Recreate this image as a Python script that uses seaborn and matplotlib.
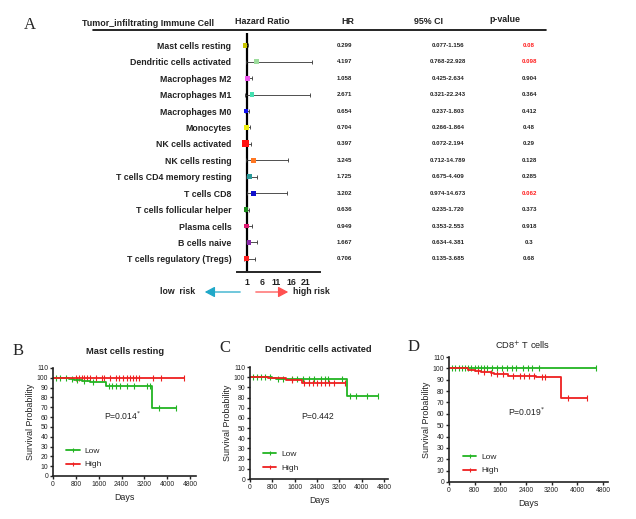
import numpy as np
import pandas as pd
import seaborn as sns
import matplotlib.pyplot as plt
from matplotlib.lines import Line2D
from matplotlib.patches import FancyArrowPatch
from matplotlib.transforms import blended_transform_factory

# ---- forest plot data (panel A)
cells = [
    "Mast cells resting", "Dendritic cells activated", "Macrophages M2",
    "Macrophages M1", "Macrophages M0", "Monocytes", "NK cells activated",
    "NK cells resting", "T cells CD4 memory resting", "T cells CD8",
    "T cells follicular helper", "Plasma cells", "B cells naive",
    "T cells regulatory (Tregs)",
]
hr = [0.299, 4.197, 1.058, 2.671, 0.654, 0.704, 0.397, 3.245, 1.725, 3.202,
      0.636, 0.949, 1.667, 0.706]
ci_low = [0.077, 0.768, 0.425, 0.321, 0.237, 0.266, 0.072, 0.712, 0.675,
          0.974, 0.235, 0.353, 0.634, 0.135]
ci_high = [1.156, 22.928, 2.634, 22.243, 1.803, 1.864, 2.194, 14.789, 4.409,
           14.673, 1.720, 2.553, 4.381, 3.685]
ci_text = ["0.077-1.156", "0.768-22.928", "0.425-2.634", "0.321-22.243",
           "0.237-1.803", "0.266-1.864", "0.072-2.194", "0.712-14.789",
           "0.675-4.409", "0.974-14.673", "0.235-1.720", "0.353-2.553",
           "0.634-4.381", "0.135-3.685"]
hr_text = ["0.299", "4.197", "1.058", "2.671", "0.654", "0.704", "0.397",
           "3.245", "1.725", "3.202", "0.636", "0.949", "1.667", "0.706"]
p_text = ["0.08", "0.098", "0.904", "0.364", "0.412", "0.48", "0.29", "0.128",
          "0.285", "0.062", "0.373", "0.918", "0.3", "0.68"]
point_colors = ["#c8c400", "#9cdc9c", "#ee55ee", "#44e0b0", "#1010ee",
                "#eeee10", "#ff1010", "#ff7722", "#2a9a9a", "#1010cc",
                "#1a8a1a", "#dd1870", "#8a2aaa", "#ff2020"]
forest_ticks = [1, 6, 11, 16, 21]

# ---- Kaplan-Meier data (panels B, C, D)
b_low_t = [0, 300, 550, 750, 1000, 1300, 1850, 3480, 4300]
b_low_s = [100, 99.5, 99, 98, 97, 96, 92, 69, 69]
b_high_t = [0, 4600]
b_high_s = [100, 100]
b_low_cens = [100, 250, 450, 650, 850, 1100, 1400, 1950, 2050, 2200, 2350,
              2600, 2850, 3300, 3400, 3700, 4300]
b_high_cens = [800, 900, 1000, 1100, 1200, 1300, 1500, 1700, 1800, 2000,
               2200, 2300, 2450, 2600, 2700, 2800, 2900, 3000, 3500, 3800,
               4600]

c_low_t = [0, 800, 950, 3480, 4600]
c_low_s = [100, 99.5, 98, 82, 82]
c_high_t = [0, 650, 1300, 1850, 3400]
c_high_s = [100, 99, 97, 94, 94]
c_low_cens = [100, 250, 400, 550, 700, 1000, 1200, 1500, 1700, 1900, 2100,
              2300, 2550, 2700, 2800, 3300, 3600, 3800, 4200, 4600]
c_high_cens = [1500, 1950, 2100, 2250, 2400, 2550, 2700, 2850, 3000, 3400]

d_low_t = [0, 4600]
d_low_s = [100, 100]
d_high_t = [0, 600, 800, 1000, 1300, 1400, 1850, 2700, 3480, 4300]
d_high_s = [100, 99, 98, 97, 96, 95, 93, 92.5, 74, 74]
d_low_cens = [100, 200, 300, 400, 500, 600, 700, 800, 900, 1000, 1100, 1200,
              1350, 1500, 1650, 1800, 1950, 2100, 2300, 2450, 2600, 2800,
              4600]
d_high_cens = [900, 1100, 1300, 1500, 1700, 2000, 2200, 2350, 2500, 2650,
               2900, 3000, 3700, 4300]

km_titles = ["Mast cells resting", "Dendritic cells activated",
             "CD8$^{+}$ T cells"]
km_pvals = ["P=0.014$^{*}$", "P=0.442", "P=0.019$^{*}$"]

GREEN = "#22b422"
RED = "#ee2020"

sns.set_theme(style="white")
plt.rcParams["font.family"] = ["Liberation Sans", "DejaVu Sans"]
plt.rcParams["axes.linewidth"] = 1.2

W, H = 636, 519
fig = plt.figure(figsize=(W / 100, H / 100), dpi=100)


def px_axes(left, top, right, bottom):
    return fig.add_axes([left / W, 1 - bottom / H, (right - left) / W,
                         (bottom - top) / H])


def fx(x):
    return x / W


def fy(y):
    return 1 - y / H


# ================= panel A
ax = px_axes(237, 33, 320, 272)
rows = np.arange(len(cells))
df = pd.DataFrame({"cell": cells, "hr": hr, "row": rows})
ax.errorbar(hr, rows, xerr=[np.array(hr) - np.array(ci_low),
                            np.array(ci_high) - np.array(hr)],
            fmt="none", ecolor="#333333", elinewidth=0.6, capsize=1.5,
            capthick=0.6, zorder=2)
sizes = {c: (24 if c == "NK cells activated" else 12) for c in cells}
sns.scatterplot(data=df, x="hr", y="row", hue="cell", size="cell",
                sizes=sizes, palette=dict(zip(cells, point_colors)),
                marker="s", linewidth=0, legend=False, ax=ax, zorder=3)
ax.axvline(1, color="black", lw=1.6, zorder=1)
ax.set_xlim(-2.4, 25.7)
ax.set_ylim(13.8, -0.75)
ax.set_yticks(rows)
ax.set_yticklabels(cells, fontsize=6.3, fontweight="bold", color="#222222")
ax.tick_params(axis="y", length=0, pad=4)
ax.set_xticks(forest_ticks)
ax.set_xticklabels([str(t) for t in forest_ticks], fontsize=6.3,
                   fontweight="bold", color="#222222")
ax.tick_params(axis="x", length=3, width=1, pad=1.5, direction="out")
ax.set_xlabel("")
ax.set_ylabel("")
for s in ["left", "right", "top"]:
    ax.spines[s].set_visible(False)
ax.spines["bottom"].set_linewidth(1.4)

tr = blended_transform_factory(fig.transFigure, ax.transData)
for i in rows:
    ax.text(fx(337), i, hr_text[i], transform=tr, fontsize=4.4,
            fontweight="bold", ha="left", va="center", color="#222222")
    ax.text(fx(448), i, ci_text[i], transform=tr, fontsize=4.4,
            fontweight="bold", ha="center", va="center", color="#222222")
    pc = "#ff1a1a" if float(p_text[i]) < 0.1 else "#222222"
    ax.text(fx(529), i, p_text[i], transform=tr, fontsize=4.4,
            fontweight="bold", ha="center", va="center", color=pc)

fig.text(fx(30), fy(25), "A", family="Liberation Serif", fontsize=12,
         ha="center", va="center")
fig.text(fx(148), fy(23), "Tumor_infiltrating Immune Cell", fontsize=6.4,
         fontweight="bold", ha="center", va="center", color="#222222")
fig.text(fx(262), fy(22), "Hazard Ratio", fontsize=6.4, fontweight="bold",
         ha="center", va="center", color="#222222")
fig.text(fx(348), fy(21), "HR", fontsize=6.4, fontweight="bold",
         ha="center", va="center", color="#222222")
fig.text(fx(428), fy(22), "95% CI", fontsize=6.4, fontweight="bold",
         ha="center", va="center", color="#222222")
fig.text(fx(505), fy(19), "p-value", fontsize=6.4, fontweight="bold",
         ha="center", va="center", color="#222222")
fig.add_artist(Line2D([fx(93), fx(546)], [fy(30), fy(30)], color="black",
                      lw=1.2))

fig.text(fx(178), fy(292), "low  risk", fontsize=6.3, fontweight="bold",
         ha="center", va="center", color="#222222")
fig.text(fx(293), fy(292), "high risk", fontsize=6.3, fontweight="bold",
         ha="left", va="center", color="#222222")
fig.add_artist(FancyArrowPatch(
    (fx(243), fy(292)), (fx(202), fy(292)), transform=fig.transFigure,
    arrowstyle="-|>,head_length=6,head_width=3.2", color="#20a8c8", lw=0.9))
fig.add_artist(FancyArrowPatch(
    (fx(253), fy(292)), (fx(291), fy(292)), transform=fig.transFigure,
    arrowstyle="-|>,head_length=6,head_width=3.2", color="#ff5050", lw=0.9))


# ================= panels B, C, D
def step_value(t, times, surv):
    idx = np.searchsorted(times, t, side="right") - 1
    return np.array(surv)[idx]


panels = [
    dict(box=(53, 368, 196, 476), xmax=5010, letter="B", lx=18, ly=351,
         tx=125, ty=351, low=(b_low_t, b_low_s, b_low_cens),
         high=(b_high_t, b_high_s, b_high_cens), bold=True),
    dict(box=(250, 367, 388, 479), xmax=4950, letter="C", lx=225, ly=348,
         tx=318, ty=349, low=(c_low_t, c_low_s, c_low_cens),
         high=(c_high_t, c_high_s, c_high_cens), bold=True),
    dict(box=(449, 357, 608, 482), xmax=4960, letter="D", lx=414, ly=347,
         tx=523, ty=346, low=(d_low_t, d_low_s, d_low_cens),
         high=(d_high_t, d_high_s, d_high_cens), bold=False),
]

for k, p in enumerate(panels):
    kax = px_axes(*p["box"])
    for (t, s, cens), col in [(p["low"], GREEN), (p["high"], RED)]:
        sns.lineplot(x=t, y=s, drawstyle="steps-post", color=col, lw=1.3,
                     sort=False, estimator=None, ax=kax)
        cy = step_value(cens, t, s)
        sns.scatterplot(x=cens, y=cy, marker="|", s=16, color=col,
                        linewidth=0.8, ax=kax)
    kax.set_xlim(0, p["xmax"])
    kax.set_ylim(0, 110)
    kax.set_xticks(np.arange(0, 4801, 800))
    kax.set_yticks(np.arange(0, 111, 10))
    kax.tick_params(labelsize=4.9, length=2.5, width=1, pad=1,
                    direction="out", colors="#222222")
    kax.tick_params(axis="both", bottom=True, left=True)
    for s in ["right", "top"]:
        kax.spines[s].set_visible(False)
    for s in ["left", "bottom"]:
        kax.spines[s].set_color("#222222")
    kax.set_xlabel("Days", fontsize=6.4, labelpad=3.5, color="#222222")
    kax.set_ylabel("Survival Probability", fontsize=6.4, labelpad=1,
                   color="#222222")
    kax.text(0.49, 0.56, km_pvals[k], transform=kax.transAxes, fontsize=6.2,
             ha="center", va="center", color="#222222")
    handles = [Line2D([], [], color=GREEN, lw=1.3, marker="|", ms=3.5,
                      mew=0.8),
               Line2D([], [], color=RED, lw=1.3, marker="|", ms=3.5,
                      mew=0.8)]
    kax.legend(handles, ["Low", "High"], loc="lower left",
               bbox_to_anchor=(0.04, 0.0), frameon=False, fontsize=6,
               handlelength=1.6, handletextpad=0.6, labelspacing=0.65)
    fig.text(fx(p["lx"]), fy(p["ly"]), p["letter"], family="Liberation Serif",
             fontsize=12, ha="center", va="center")
    fig.text(fx(p["tx"]), fy(p["ty"]), km_titles[k], fontsize=6.7,
             fontweight="bold" if p["bold"] else "normal", ha="center",
             va="center", color="#222222")

plt.savefig("out.png", dpi=100)
